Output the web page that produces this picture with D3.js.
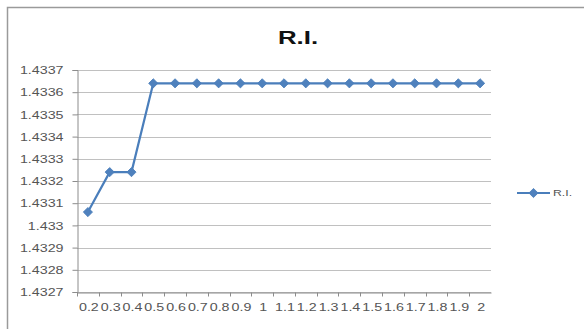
<!DOCTYPE html>
<html>
<head>
<meta charset="utf-8">
<script src="https://cdn.jsdelivr.net/npm/d3@7"></script>
<style>
  html, body { margin: 0; padding: 0; background: #fff; }
  svg { display: block; font-family: Arial, "Liberation Sans", sans-serif; }
</style>
</head>
<body>
<svg id="chart" width="584" height="329"></svg>
<script>
// Refractive index readings per category
const categories = ["0.2","0.3","0.4","0.5","0.6","0.7","0.8","0.9","1","1.1","1.2","1.3","1.4","1.5","1.6","1.7","1.8","1.9","2"];
const riValues = [1.43306, 1.43324, 1.43324, 1.43364, 1.43364, 1.43364, 1.43364, 1.43364, 1.43364, 1.43364,
                  1.43364, 1.43364, 1.43364, 1.43364, 1.43364, 1.43364, 1.43364, 1.43364, 1.43364];
const yTicks = [1.4327, 1.4328, 1.4329, 1.433, 1.4331, 1.4332, 1.4333, 1.4334, 1.4335, 1.4336, 1.4337];
const seriesName = "R.I.";
const chartTitle = "R.I.";

const svg = d3.select("#chart");
const plot = { left: 77, right: 491, top: 70, bottom: 292 };
const stretch = 1.36; // wide text rendering

// outer chart frame
svg.append("rect")
  .attr("x", 7.5).attr("y", 7.5)
  .attr("width", 600).attr("height", 400)
  .attr("fill", "none").attr("stroke", "#9a9a9a").attr("stroke-width", 1.5);

const x = d3.scaleBand().domain(categories).range([plot.left, plot.right]);
const y = d3.scaleLinear().domain([1.4327, 1.4337]).range([plot.bottom, plot.top]);
const cx = c => x(c) + x.bandwidth() / 2;

// horizontal gridlines
svg.append("g").selectAll("line").data(yTicks).join("line")
  .attr("x1", plot.left).attr("x2", plot.right)
  .attr("y1", d => Math.round(y(d)) + 0.5).attr("y2", d => Math.round(y(d)) + 0.5)
  .attr("stroke", "#c0c0c0").attr("stroke-width", 1);

// y axis
const yAxis = svg.append("g")
  .attr("transform", `translate(${plot.left + 0.5},0)`)
  .call(d3.axisLeft(y).tickValues(yTicks).tickSize(5).tickPadding(0).tickFormat(d => String(+d.toFixed(4))));
yAxis.select(".domain").attr("stroke", "#8c8c8c");
yAxis.selectAll(".tick line").attr("stroke", "#8c8c8c");
yAxis.selectAll(".tick text").remove();
yAxis.selectAll(".tick").append("text")
  .attr("transform", `translate(-14,0) scale(${stretch},1)`)
  .attr("text-anchor", "end").attr("dy", "0.35em")
  .attr("font-size", 10.5).attr("fill", "#555")
  .text(d => String(+d.toFixed(4)));

// x axis
const xAxis = svg.append("g")
  .attr("transform", `translate(0,${plot.bottom + 0.5})`)
  .call(d3.axisBottom(x).tickSize(0).tickFormat(""));
xAxis.select(".domain").attr("stroke", "#8c8c8c");
xAxis.selectAll(".tick").remove();
xAxis.selectAll("line.sep").data(categories).join("line")
  .attr("class", "sep")
  .attr("x1", d => Math.round(x(d)) + 0.5).attr("x2", d => Math.round(x(d)) + 0.5)
  .attr("y1", 0).attr("y2", 4).attr("stroke", "#8c8c8c");
svg.append("g").selectAll("text").data(categories).join("text")
  .attr("transform", d => `translate(${cx(d) + 1},${plot.bottom + 19}) scale(${stretch},1)`)
  .attr("text-anchor", "middle")
  .attr("font-size", 10.5).attr("fill", "#555")
  .text(d => d);

// series line
const line = d3.line().x((d, i) => cx(categories[i])).y(d => y(d));
svg.append("path").datum(riValues)
  .attr("d", line)
  .attr("fill", "none").attr("stroke", "#4a7ebb").attr("stroke-width", 2.2)
  .attr("stroke-linejoin", "round");

// diamond markers (square turned 45 degrees)
const diamond = d3.symbol().type(d3.symbolSquare).size(42);
svg.append("g").selectAll("path").data(riValues).join("path")
  .attr("d", diamond)
  .attr("transform", (d, i) => `translate(${cx(categories[i])},${y(d)}) rotate(45)`)
  .attr("fill", "#4f81bd").attr("stroke", "#4a7ebb").attr("stroke-width", 0.8);

// title
svg.append("text")
  .attr("transform", `translate(298,44) scale(${stretch},1)`)
  .attr("text-anchor", "middle")
  .attr("font-size", 19).attr("font-weight", "bold").attr("fill", "#111")
  .text(chartTitle);

// legend
const lg = svg.append("g").attr("transform", "translate(517,193)");
lg.append("line").attr("x1", 0).attr("x2", 33).attr("y1", 0).attr("y2", 0)
  .attr("stroke", "#4a7ebb").attr("stroke-width", 2.2);
lg.append("path").attr("d", diamond).attr("transform", "translate(16.5,0) rotate(45)")
  .attr("fill", "#4f81bd").attr("stroke", "#4a7ebb").attr("stroke-width", 0.8);
lg.append("text")
  .attr("transform", `translate(36,0) scale(${stretch},1)`)
  .attr("dy", "0.35em").attr("font-size", 9).attr("fill", "#555")
  .text(seriesName);
</script>
</body>
</html>
